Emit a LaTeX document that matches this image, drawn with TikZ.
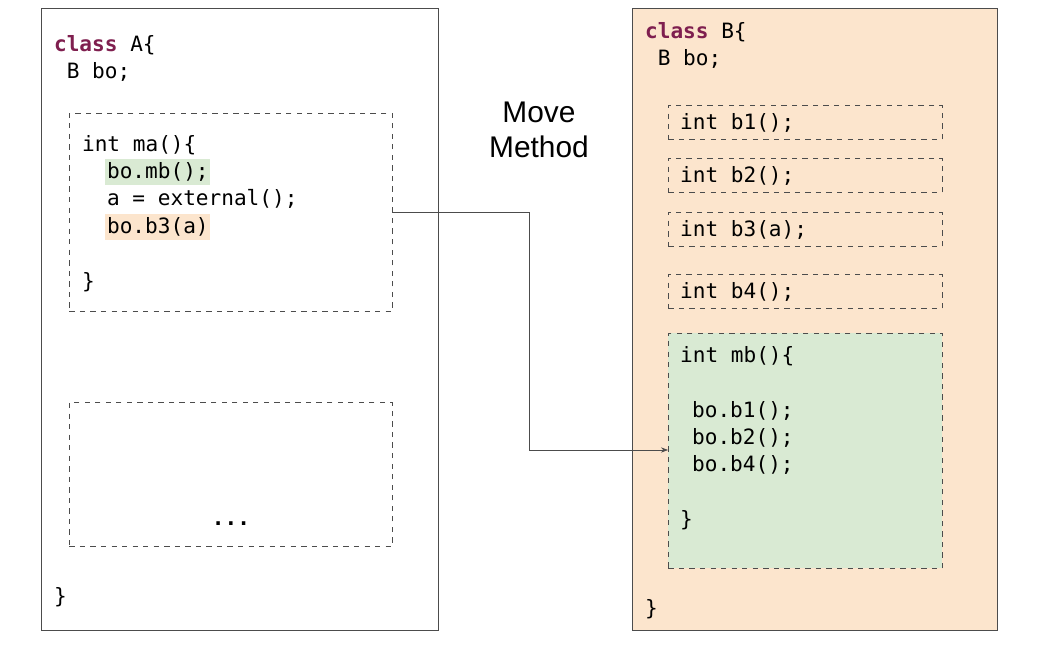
\documentclass[tikz,border=0pt]{standalone}
\usepackage{fontspec}
\setmainfont{Liberation Sans}
\setmonofont{DejaVu Sans Mono}
\usepackage{xcolor}
\definecolor{peach}{HTML}{FCE5CD}
\definecolor{mint}{HTML}{D9EAD3}
\definecolor{kw}{HTML}{7F1F4F}
\usetikzlibrary{positioning,arrows.meta}
\tikzset{
  code/.style={anchor=west, inner sep=1pt, font=\fontsize{12}{14}\selectfont\ttfamily},
  methbox/.style={draw=black!70, dashed, thin},
  classbox/.style={draw=black!70, thin}
}
\begin{document}
\begin{tikzpicture}[x=0.02cm, y=-0.02cm]
    \useasboundingbox (0,0) rectangle (1050,645);
    % class A
    \node[classbox, minimum width=397*0.02cm, minimum height=622*0.02cm, anchor=north west] (clsA) at (41,8) {};
    \node[code] (headA) at (52,45) {\textbf{\color{kw}class} A\{};
    \node[code] (fieldA) at (52,72) {~B bo;};
    \node[methbox, minimum width=323*0.02cm, minimum height=198*0.02cm, anchor=north west] (ma) at (69,113) {};
    \node[code] (ma1) at (80,145) {int ma()\{};
    \node[code, fill=mint, minimum height=26*0.02cm] (ma2) at (105,172) {bo.mb();};
    \node[code] (ma3) at (105,199) {a = external();};
    \node[code, fill=peach, minimum height=26*0.02cm] (ma4) at (105,227) {bo.b3(a)};
    \node[code] (ma5) at (80,282) {\}};
    \node[methbox, minimum width=323*0.02cm, minimum height=144*0.02cm, anchor=north west] (other) at (69,402) {};
    \node[code, anchor=center] (dots) at (231,524) {\textbf{...}};
    \node[code] (endA) at (52,597) {\}};

    % Move Method label
    \node[align=center, font=\fontsize{17}{20}\selectfont] (move) at (539,130) {Move\\Method};

    % class B
    \node[classbox, fill=peach, minimum width=365*0.02cm, minimum height=622*0.02cm, anchor=north west] (clsB) at (632,8) {};
    \node[code] (headB) at (643,32) {\textbf{\color{kw}class} B\{};
    \node[code] (fieldB) at (643,59) {~B bo;};
    \foreach \n/\y in {1/105, 2/158, 4/274} {
        \node[methbox, minimum width=274*0.02cm, minimum height=34*0.02cm, anchor=north west] (b\n) at (668,\y) {};
        \node[code] at (678,\y+18) {int b\n();};
    }
    \node[methbox, minimum width=274*0.02cm, minimum height=34*0.02cm, anchor=north west] (b3) at (668,212) {};
    \node[code] at (678,230) {int b3(a);};
    \node[methbox, fill=mint, minimum width=274*0.02cm, minimum height=235*0.02cm, anchor=north west] (mb) at (668,333) {};
    \node[code] (mb1) at (678,356) {int mb()\{};
    \node[code] (mb2) at (690,411) {bo.b1();};
    \node[code] (mb3) at (690,438) {bo.b2();};
    \node[code] (mb4) at (690,465) {bo.b4();};
    \node[code] (mb5) at (678,520) {\}};
    \node[code] (endB) at (643,609) {\}};

    % connector
    \coordinate (tgt) at (668,450);
    \draw[black!70, -{Stealth[length=4pt]}] (392,212) -- (529,212) -- (529,450) -- (tgt);
\end{tikzpicture}
\end{document}
